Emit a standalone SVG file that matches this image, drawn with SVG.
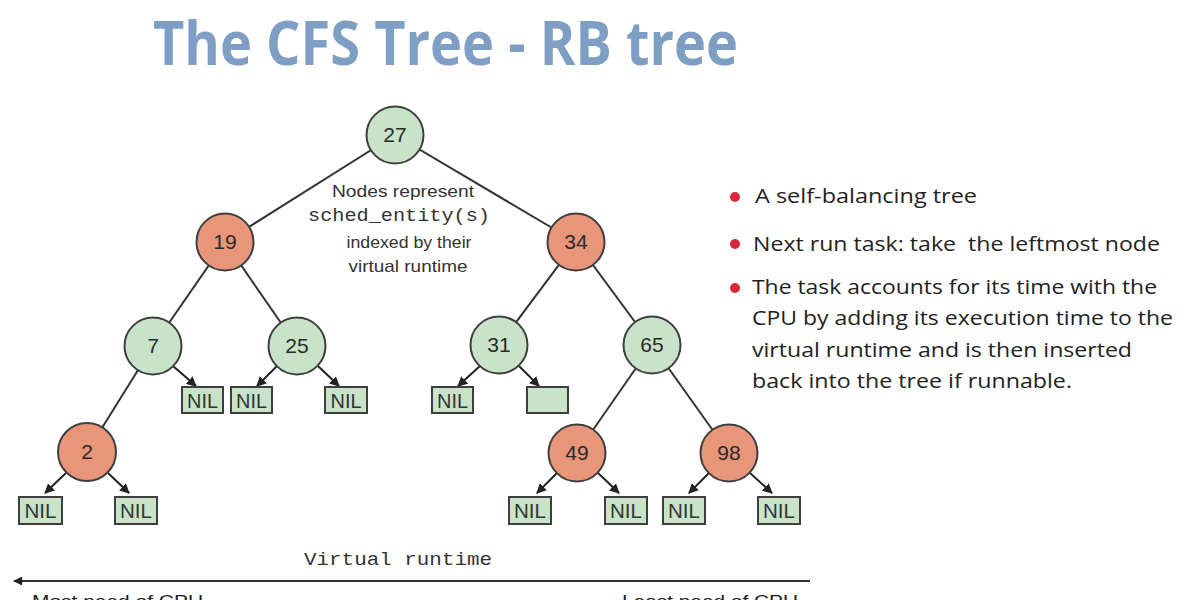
<svg xmlns="http://www.w3.org/2000/svg" width="1200" height="600" viewBox="0 0 1200 600">
<defs>
<marker id="ah" viewBox="0 0 10 10" refX="9" refY="5" markerWidth="10" markerHeight="10" markerUnits="userSpaceOnUse" orient="auto">
<path d="M0,0 L10,5 L0,10 z" fill="#222"/>
</marker>
<marker id="ahs" viewBox="0 0 10 10" refX="9" refY="5" markerWidth="11" markerHeight="9" markerUnits="userSpaceOnUse" orient="auto">
<path d="M0,0 L10,5 L0,10 z" fill="#222"/>
</marker>
</defs>
<style>
.g{fill:#c9e3c9;stroke:#3f3f3f;stroke-width:2}
.r{fill:#e8957a;stroke:#3f3f3f;stroke-width:2}
.box{fill:#c9e3c9;stroke:#3f3f3f;stroke-width:2}
.num{font-family:"Liberation Sans",Arial,sans-serif;font-size:21px;fill:#2a2a2a;text-anchor:middle}
.nil{font-family:"Liberation Sans",Arial,sans-serif;font-size:20px;fill:#333;text-anchor:middle}
.edge{stroke:#333;stroke-width:2;fill:none}
.arr{stroke:#222;stroke-width:2;fill:none;marker-end:url(#ah)}
.desc{font-family:"Liberation Sans",Arial,sans-serif;font-size:17px;fill:#333;text-anchor:middle}
.mono{font-family:"Liberation Mono","DejaVu Sans Mono",monospace;font-size:18px;fill:#333;text-anchor:middle}
.bul{font-family:"Open Sans","Noto Sans",sans-serif;font-size:20px;fill:#222;white-space:pre}
.dot{fill:#d8283c}
.axis{font-family:"Liberation Sans",Arial,sans-serif;font-size:17px;fill:#222}
</style>
<rect width="1200" height="600" fill="#ffffff"/>
<text x="153" y="65" font-family="Open Sans,Noto Sans,sans-serif" font-weight="bold" font-size="60" fill="#7e9fc3" textLength="585" lengthAdjust="spacingAndGlyphs">The CFS Tree - RB tree</text>

<g id="connectors">
<line class="edge" x1="395" y1="135" x2="225" y2="242"/>
<line class="edge" x1="395" y1="135" x2="576" y2="242"/>
<line class="edge" x1="225" y1="242" x2="153" y2="346"/>
<line class="edge" x1="225" y1="242" x2="297" y2="346"/>
<line class="edge" x1="576" y1="242" x2="499" y2="345"/>
<line class="edge" x1="576" y1="242" x2="652" y2="345"/>
<line class="edge" x1="153" y1="346" x2="87" y2="452"/>
<line class="edge" x1="652" y1="345" x2="577" y2="453"/>
<line class="edge" x1="652" y1="345" x2="729" y2="453"/>
<line class="arr" x1="173" y1="366" x2="196" y2="386"/>
<line class="arr" x1="66" y1="473" x2="45" y2="493"/>
<line class="arr" x1="108" y1="473" x2="129" y2="493"/>
<line class="arr" x1="277" y1="366" x2="257" y2="386"/>
<line class="arr" x1="318" y1="366" x2="339" y2="386"/>
<line class="arr" x1="480" y1="366" x2="458" y2="386"/>
<line class="arr" x1="519" y1="366" x2="539" y2="386"/>
<line class="arr" x1="557" y1="473" x2="537" y2="493"/>
<line class="arr" x1="598" y1="473" x2="619" y2="493"/>
<line class="arr" x1="709" y1="473" x2="689" y2="493"/>
<line class="arr" x1="750" y1="473" x2="772" y2="493"/>
<line x1="810" y1="581" x2="14" y2="581" stroke="#333" stroke-width="2" marker-end="url(#ahs)"/>
</g>

<g id="n27"><circle class="g" cx="395" cy="135" r="28.5"/><text class="num" x="395" y="142">27</text></g>
<g id="n19"><circle class="r" cx="225" cy="242" r="28.5"/><text class="num" x="225" y="249">19</text></g>
<g id="n34"><circle class="r" cx="576" cy="242" r="28.5"/><text class="num" x="576" y="249">34</text></g>
<g id="n7"><circle class="g" cx="153" cy="346" r="28.5"/><text class="num" x="153" y="353">7</text></g>
<g id="n25"><circle class="g" cx="297" cy="346" r="28.5"/><text class="num" x="297" y="353">25</text></g>
<g id="n31"><circle class="g" cx="499" cy="345" r="28.5"/><text class="num" x="499" y="352">31</text></g>
<g id="n65"><circle class="g" cx="652" cy="345" r="28.5"/><text class="num" x="652" y="352">65</text></g>
<g id="n2"><circle class="r" cx="87" cy="452" r="29"/><text class="num" x="87" y="459">2</text></g>
<g id="n49"><circle class="r" cx="577" cy="453" r="28.5"/><text class="num" x="577" y="460">49</text></g>
<g id="n98"><circle class="r" cx="729" cy="453" r="28.5"/><text class="num" x="729" y="460">98</text></g>

<g id="nil1"><rect class="box" x="182" y="387" width="41" height="26"/><text class="nil" x="202.5" y="408" textLength="31" lengthAdjust="spacingAndGlyphs">NIL</text></g>
<g id="nil2"><rect class="box" x="231" y="387" width="41" height="26"/><text class="nil" x="251.5" y="408" textLength="31" lengthAdjust="spacingAndGlyphs">NIL</text></g>
<g id="nil3"><rect class="box" x="325" y="387" width="42" height="26"/><text class="nil" x="346" y="408" textLength="31" lengthAdjust="spacingAndGlyphs">NIL</text></g>
<g id="nil4"><rect class="box" x="432" y="387" width="41" height="26"/><text class="nil" x="452.5" y="408" textLength="31" lengthAdjust="spacingAndGlyphs">NIL</text></g>
<g id="empty"><rect class="box" x="527" y="387" width="41" height="26"/></g>
<g id="nil5"><rect class="box" x="19" y="497" width="43" height="27"/><text class="nil" x="40.5" y="518" textLength="32" lengthAdjust="spacingAndGlyphs">NIL</text></g>
<g id="nil6"><rect class="box" x="115" y="497" width="42" height="27"/><text class="nil" x="136" y="518" textLength="32" lengthAdjust="spacingAndGlyphs">NIL</text></g>
<g id="nil7"><rect class="box" x="509" y="497" width="42" height="27"/><text class="nil" x="530" y="518" textLength="32" lengthAdjust="spacingAndGlyphs">NIL</text></g>
<g id="nil8"><rect class="box" x="605" y="497" width="42" height="27"/><text class="nil" x="626" y="518" textLength="32" lengthAdjust="spacingAndGlyphs">NIL</text></g>
<g id="nil9"><rect class="box" x="663" y="497" width="42" height="27"/><text class="nil" x="684" y="518" textLength="32" lengthAdjust="spacingAndGlyphs">NIL</text></g>
<g id="nil10"><rect class="box" x="758" y="497" width="42" height="27"/><text class="nil" x="779" y="518" textLength="32" lengthAdjust="spacingAndGlyphs">NIL</text></g>

<g id="note">
<text class="desc" x="403" y="197" textLength="142" lengthAdjust="spacingAndGlyphs">Nodes represent</text>
<text class="mono" x="399" y="221" textLength="182" lengthAdjust="spacingAndGlyphs">sched_entity(s)</text>
<text class="desc" x="409" y="248" textLength="125" lengthAdjust="spacingAndGlyphs">indexed by their</text>
<text class="desc" x="408" y="272" textLength="119" lengthAdjust="spacingAndGlyphs">virtual runtime</text>
</g>

<g id="axis">
<text class="mono" x="398" y="565" textLength="188" lengthAdjust="spacingAndGlyphs">Virtual runtime</text>
<text class="axis" x="32" y="607" textLength="171" lengthAdjust="spacingAndGlyphs">Most need of CPU</text>
<text class="axis" x="622" y="607" textLength="176" lengthAdjust="spacingAndGlyphs">Least need of CPU</text>
</g>

<g id="bullets">
<circle class="dot" cx="735" cy="197" r="5"/>
<circle class="dot" cx="735" cy="244" r="5"/>
<circle class="dot" cx="735" cy="288" r="5"/>
<text class="bul" x="755" y="203" textLength="222" lengthAdjust="spacingAndGlyphs">A self-balancing tree</text>
<text class="bul" x="753" y="251" textLength="407" lengthAdjust="spacingAndGlyphs">Next run task: take  the leftmost node</text>
<text class="bul" x="752" y="294" textLength="405" lengthAdjust="spacingAndGlyphs">The task accounts for its time with the</text>
<text class="bul" x="752" y="325" textLength="421" lengthAdjust="spacingAndGlyphs">CPU by adding its execution time to the</text>
<text class="bul" x="752" y="357" textLength="380" lengthAdjust="spacingAndGlyphs">virtual runtime and is then inserted</text>
<text class="bul" x="752" y="388" textLength="320" lengthAdjust="spacingAndGlyphs">back into the tree if runnable.</text>
</g>
</svg>
